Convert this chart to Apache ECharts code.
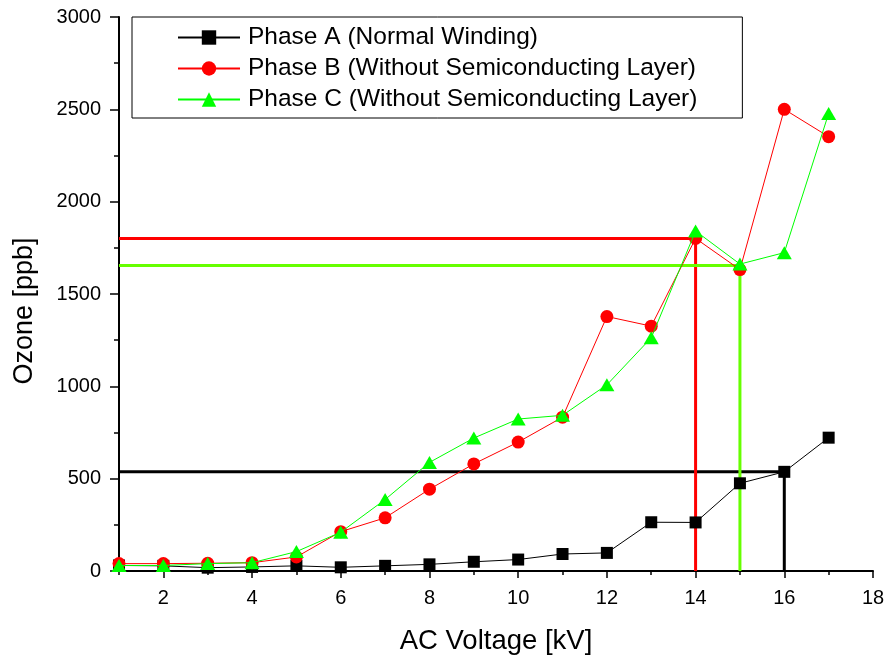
<!DOCTYPE html>
<html>
<head>
<meta charset="utf-8">
<script src="https://cdn.jsdelivr.net/npm/echarts@6/dist/echarts.min.js"></script>
<style>
  html, body { margin: 0; padding: 0; background: #fff; }
  #chart { width: 889px; height: 662px; }
</style>
</head>
<body>
<div id="chart"></div>
<script>
// ---- data ----
const voltages = [1, 2, 3, 4, 5, 6, 7, 8, 9, 10, 11, 12, 13, 14, 15, 16, 17];
const phaseA = [30, 28, 18, 22, 28, 20, 28, 36, 50, 62, 92, 98, 264, 263, 475, 537, 722];
const phaseB = [40, 40, 42, 45, 76, 213, 288, 443, 580, 698, 833, 1378, 1326, 1801, 1632, 2500, 2352];
const phaseC = [30, 30, 40, 45, 105, 210, 387, 588, 720, 823, 843, 1008, 1263, 1841, 1662, 1724, 2478];
const seriesNames = [
  'Phase A (Normal Winding)',
  'Phase B (Without Semiconducting Layer)',
  'Phase C (Without Semiconducting Layer)'
];
// reference (read-off) lines: voltage and ozone level
const refA = { voltage: 16, ozone: 537 };
const refB = { voltage: 14, ozone: 1800 };
const refC = { voltage: 15, ozone: 1655 };
const xMin = 1, xMax = 18;
const xMajorTicks = [2, 4, 6, 8, 10, 12, 14, 16, 18];
const yMin = 0, yMax = 3000, yInterval = 500;
const xTitle = 'AC Voltage [kV]';
const yTitle = 'Ozone [ppb]';

const FONT = 'Liberation Sans, Arial, sans-serif';
const pairs = (vals) => voltages.map((v, i) => [v, vals[i]]);
const refPath = (r) => [[xMin, r.ozone], [r.voltage, r.ozone], [r.voltage, yMin]];

const chart = echarts.init(document.getElementById('chart'), null, { renderer: 'canvas' });

const refSeries = (r, color) => ({
  type: 'line', data: refPath(r), xAxisIndex: 0, yAxisIndex: 0,
  symbol: 'none', lineStyle: { color: color, width: 3 }, silent: true,
  z: 1, animation: false
});

const GRID = { left: 119, right: 16, top: 17, bottom: 91 };

chart.setOption({
  animation: false,
  backgroundColor: '#fff',
  grid: { left: GRID.left, right: GRID.right, top: GRID.top, bottom: GRID.bottom, containLabel: false },
  legend: {
    data: seriesNames,
    orient: 'vertical',
    left: 132, top: 17,
    padding: [8, 45, 6, 45],
    itemWidth: 62, itemHeight: 18, itemGap: 6,
    borderColor: '#000', borderWidth: 1,
    backgroundColor: '#fff',
    textStyle: { fontSize: 24.5, fontFamily: FONT, color: '#000', lineHeight: 24, padding: [0, 0, 0, 3] }
  },
  xAxis: [
    {
      type: 'value', min: xMin, max: xMax, interval: 1,
      axisLine: { show: true, onZero: false, lineStyle: { color: '#000', width: 2 } },
      axisTick: { show: true, inside: false, length: 4, lineStyle: { color: '#000', width: 1.5 } },
      axisLabel: {
        show: true, margin: 17, fontSize: 20, fontFamily: FONT, color: '#000',
        formatter: (v) => (xMajorTicks.indexOf(v) >= 0 ? String(v) : '')
      },
      splitLine: { show: false }
    },
    {
      type: 'value', min: xMin, max: xMax, position: 'bottom', gridIndex: 0,
      axisLine: { show: false, onZero: false },
      axisTick: { show: true, inside: false, length: 7, customValues: xMajorTicks, lineStyle: { color: '#000', width: 1.5 } },
      axisLabel: { show: false },
      splitLine: { show: false }
    }
  ],
  yAxis: {
    type: 'value', min: yMin, max: yMax, interval: yInterval,
    axisLine: { show: true, lineStyle: { color: '#000', width: 2 } },
    axisTick: { show: true, inside: false, length: 9, lineStyle: { color: '#000', width: 1.5 } },
    minorTick: { show: true, splitNumber: 2, length: 5, lineStyle: { color: '#000', width: 1.5 } },
    axisLabel: { margin: 18, fontSize: 20, fontFamily: FONT, color: '#000', formatter: (v) => String(v) },
    splitLine: { show: false }
  },
  graphic: [
    {
      type: 'text', x: GRID.left + (889 - GRID.left - GRID.right) / 2, y: 641, z: 10,
      style: { text: xTitle, font: '27.5px ' + FONT, fill: '#000', align: 'center', verticalAlign: 'middle' }
    },
    {
      type: 'text', x: 25, y: 311, rotation: Math.PI / 2, z: 10,
      style: { text: yTitle, font: '27px ' + FONT, fill: '#000', align: 'center', verticalAlign: 'middle' }
    }
  ],
  series: [
    refSeries(refA, '#000000'),
    refSeries(refB, '#ff0000'),
    refSeries(refC, '#66ff00'),
    {
      name: seriesNames[0], type: 'line', data: pairs(phaseA),
      symbol: 'rect', symbolSize: 12,
      lineStyle: { color: '#000', width: 1 }, itemStyle: { color: '#000' }, z: 3
    },
    {
      name: seriesNames[1], type: 'line', data: pairs(phaseB),
      symbol: 'circle', symbolSize: 13,
      lineStyle: { color: '#ff0000', width: 1 }, itemStyle: { color: '#ff0000' }, z: 4
    },
    {
      name: seriesNames[2], type: 'line', data: pairs(phaseC),
      symbol: 'triangle', symbolSize: [15, 13],
      lineStyle: { color: '#00ff00', width: 1 }, itemStyle: { color: '#00ff00' }, z: 5
    }
  ]
});
</script>
</body>
</html>
